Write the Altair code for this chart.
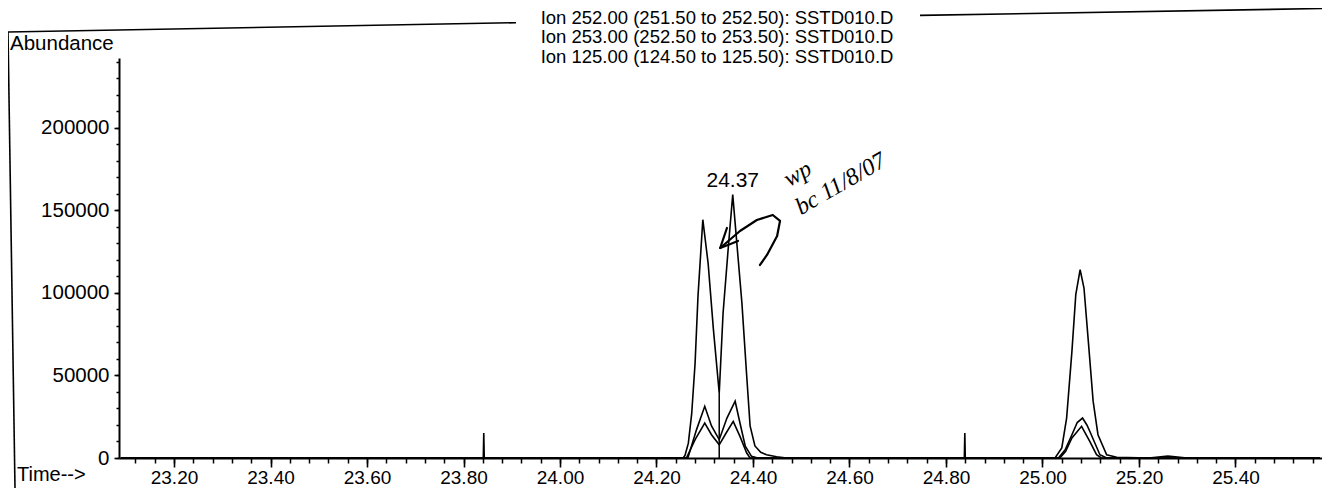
import altair as alt
import pandas as pd

FONT = "Liberation Sans"

# ---------------- data ----------------
# Ion 252 (largest trace)
T252 = [23.090, 23.841, 23.842, 23.843, 24.255, 24.259, 24.266, 24.273, 24.280, 24.286,
        24.296, 24.307, 24.318, 24.330, 24.338, 24.349, 24.358, 24.367, 24.377, 24.387,
        24.394, 24.404, 24.416, 24.428, 24.449, 24.470, 24.838, 24.839, 24.840, 25.026,
        25.040, 25.050, 25.061, 25.069, 25.078, 25.086, 25.095, 25.105, 25.115, 25.133,
        25.154, 25.220, 25.260, 25.300, 25.575]
V252 = [0, 0, 15200, 0, 0, 1500, 9000, 27000, 57600, 98000,
        144400, 118000, 77800, 39400, 87900, 128300, 159600, 128500, 94000, 49500,
        19400, 7300, 3500, 2000, 800, 0, 0, 15200, 0, 0,
        6100, 24200, 64600, 99000, 114100, 103000, 70700, 34300, 14100, 2000,
        500, 0, 1200, 0, 0]

# Ion 253 (middle trace)
T253 = [23.090, 24.265, 24.283, 24.300, 24.314, 24.330, 24.346, 24.363, 24.373, 24.384,
        24.397, 24.410, 25.033, 25.047, 25.061, 25.072, 25.083, 25.092, 25.098, 25.119,
        25.133, 25.575]
V253 = [0, 0, 17200, 31300, 19400, 11100, 24200, 34400, 21200, 7100,
        1000, 0, 0, 5000, 14100, 21500, 24200, 20000, 16200, 2000,
        0, 0]

# Ion 125 (smallest trace)
T125 = [23.090, 24.262, 24.280, 24.300, 24.314, 24.330, 24.344, 24.359, 24.373, 24.387,
        24.394, 25.036, 25.048, 25.061, 25.081, 25.098, 25.112, 25.122, 25.575]
V125 = [0, 0, 11100, 21200, 14100, 8000, 15000, 22200, 13100, 3000,
        0, 0, 4000, 12100, 19200, 10100, 2000, 0, 0]

IONS = ["Ion 252", "Ion 253", "Ion 125"]

# scan marker at the valley
MARKER_T = [24.330]
MARKER_V = [39400]

# peak label
PEAK_T = [24.358]
PEAK_V = [159600]
PEAK_LABEL = ["24.37"]

TITLE_LINES = ["Ion 252.00 (251.50 to 252.50): SSTD010.D",
               "Ion 253.00 (252.50 to 253.50): SSTD010.D",
               "Ion 125.00 (124.50 to 125.50): SSTD010.D"]

# handwritten arrow (in data units)
ARROW_T = [24.4145, 24.429, 24.450, 24.456, 24.441, 24.408, 24.373, 24.332,
           24.346, 24.332, 24.369]
ARROW_V = [116970, 123030, 134550, 143640, 147270, 144240, 137580, 127270,
           139390, 127270, 131520]
ARROW_STROKE = [0, 0, 0, 0, 0, 0, 0, 0, 1, 1, 1]
HAND_T = [24.493, 24.582]
HAND_V = [172000, 166000]
HAND_TEXT = ["wp", "bc 11/8/07"]

X_MAJOR = [23.2, 23.4, 23.6, 23.8, 24.0, 24.2, 24.4, 24.6, 24.8, 25.0, 25.2, 25.4]
X_MINOR = [round(23.12 + 0.04 * i, 2) for i in range(62)]
Y_MAJOR = [0, 50000, 100000, 150000, 200000]
Y_MINOR = [10000 * i for i in range(25)]

X_MIN, X_MAX = 23.086, 25.5793
Y_MAX = 242400

# ---------------- tables ----------------
rows = []
for ion, ts, vs in zip(IONS, [T252, T253, T125], [V252, V253, V125]):
    for t, v in zip(ts, vs):
        rows.append({"ion": ion, "t": t, "v": v})
traces = pd.DataFrame(rows)

xscale = alt.Scale(domain=[X_MIN, X_MAX], nice=False, zero=False)
yscale = alt.Scale(domain=[0, Y_MAX], nice=False, zero=False)

lines = alt.Chart(traces).mark_line(color="black", strokeWidth=1.6, clip=True).encode(
    x=alt.X("t:Q", scale=xscale, axis=alt.Axis(
        values=X_MAJOR, format=".2f", orient="bottom", title=None, grid=False,
        tickSize=9, tickWidth=1.6, tickColor="black", domainColor="black", domainWidth=2,
        labelPadding=1, labelFontSize=19, labelFont=FONT, labelColor="black",
        labelFlush=False, labelOverlap=False)),
    y=alt.Y("v:Q", scale=yscale, axis=alt.Axis(
        values=Y_MAJOR, format="d", orient="left", title=None, grid=False,
        tickSize=5, tickWidth=1.6, tickColor="black", domainColor="black", domainWidth=2,
        labelPadding=5, labelFontSize=20.5, labelFont=FONT, labelColor="black",
        labelFlush=False, labelOverlap=False)),
    detail="ion:N",
)

minor = alt.Chart(pd.DataFrame({"t": [X_MIN], "v": [0]})).mark_point(opacity=0).encode(
    x=alt.X("t:Q", scale=xscale, axis=alt.Axis(
        values=X_MINOR, orient="bottom", title=None, grid=False, labels=False, domain=False,
        tickSize=5, tickWidth=1.5, tickColor="black")),
    y=alt.Y("v:Q", scale=yscale, axis=alt.Axis(
        values=Y_MINOR, orient="left", title=None, grid=False, labels=False, domain=False,
        tickSize=3, tickWidth=1.5, tickColor="black")),
)

marker = alt.Chart(pd.DataFrame({"t": MARKER_T, "v0": [0], "v": MARKER_V})).mark_rule(
    color="black", strokeWidth=1.5).encode(
    x=alt.X("t:Q", scale=xscale, axis=None),
    y=alt.Y("v0:Q", scale=yscale, axis=None),
    y2="v:Q",
)

peak_label = alt.Chart(pd.DataFrame({"t": PEAK_T, "v": PEAK_V, "s": PEAK_LABEL})).mark_text(
    font=FONT, fontSize=21, color="black", baseline="alphabetic", dy=-8).encode(
    x=alt.X("t:Q", scale=xscale, axis=None),
    y=alt.Y("v:Q", scale=yscale, axis=None),
    text="s:N",
)

arrow = alt.Chart(pd.DataFrame({"t": ARROW_T, "v": ARROW_V, "k": ARROW_STROKE,
                                "o": list(range(len(ARROW_T)))})).mark_line(
    color="black", strokeWidth=2.2, strokeCap="round", strokeJoin="round").encode(
    x=alt.X("t:Q", scale=xscale, axis=None),
    y=alt.Y("v:Q", scale=yscale, axis=None),
    detail="k:N",
    order="o:Q",
)

hand = alt.Chart(pd.DataFrame({"t": HAND_T, "v": HAND_V, "s": HAND_TEXT})).mark_text(
    font="Liberation Serif", fontStyle="italic", fontSize=24, color="black", angle=330).encode(
    x=alt.X("t:Q", scale=xscale, axis=None),
    y=alt.Y("v:Q", scale=yscale, axis=None),
    text="s:N",
)

title = alt.Chart(pd.DataFrame({"s": TITLE_LINES, "y": [-40.5, -21, -1.5]})).mark_text(
    font=FONT, fontSize=18.5, color="black", align="center", baseline="middle").encode(
    x=alt.value(598),
    y=alt.Y("y:Q", scale=None, axis=None),
    text="s:N",
)

abundance = alt.Chart(pd.DataFrame({"s": ["Abundance"]})).mark_text(
    font=FONT, fontSize=20.5, color="black", align="left", baseline="middle").encode(
    x=alt.value(-109), y=alt.value(-14), text="s:N")

time_lbl = alt.Chart(pd.DataFrame({"s": ["Time-->"]})).mark_text(
    font=FONT, fontSize=20, color="black", align="left", baseline="middle").encode(
    x=alt.value(-102), y=alt.value(417), text="s:N")

frame = alt.Chart(pd.DataFrame({"a": [0]}))
frame_top_l = frame.mark_rule(color="black", strokeWidth=1.6).encode(
    x=alt.value(-111), y=alt.value(-26), x2=alt.value(397), y2=alt.value(-35.3))
frame_top_r = frame.mark_rule(color="black", strokeWidth=1.6).encode(
    x=alt.value(801), y=alt.value(-42.6), x2=alt.value(1203), y2=alt.value(-49.5))
frame_left = frame.mark_rule(color="black", strokeWidth=1.6).encode(
    x=alt.value(-111), y=alt.value(-26), x2=alt.value(-104), y2=alt.value(430))

chart = alt.layer(
    lines, minor, marker, peak_label, arrow, hand, title, abundance, time_lbl,
    frame_top_l, frame_top_r, frame_left
).resolve_axis(x="independent", y="independent").properties(
    width=1203, height=400,
    autosize=alt.AutoSizeParams(type="none"),
    padding={"left": 111, "top": 50, "right": 0, "bottom": 30},
    background="white",
).configure_view(stroke=None)

chart.save("out.html", embed_options={"renderer": "svg", "actions": False})
